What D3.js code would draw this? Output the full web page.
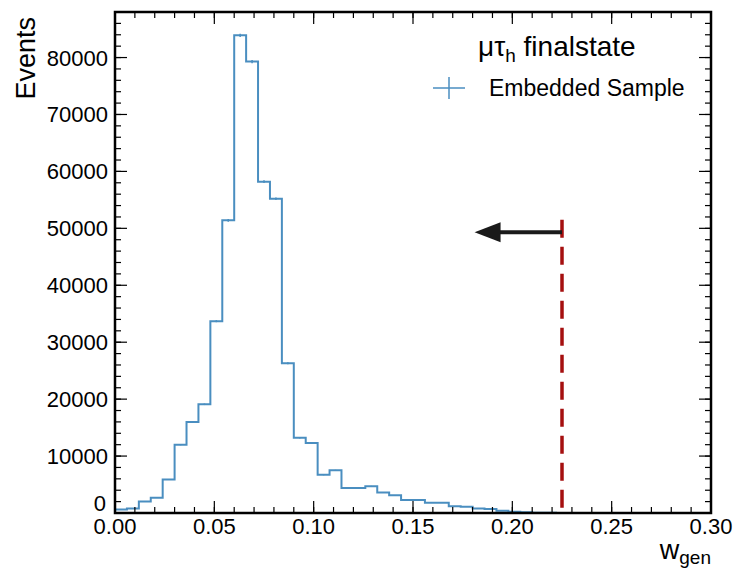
<!DOCTYPE html>
<html>
<head>
<meta charset="utf-8">
<script src="https://cdn.jsdelivr.net/npm/d3@7"></script>
<style>
  body { margin: 0; background: #fff; }
  text { font-family: "Liberation Sans", Arial, sans-serif; fill: #000; }
</style>
</head>
<body>
<div id="chart"></div>
<script>
// histogram of w_gen, 50 bins of width 0.006 from 0 to 0.30
var binWidth = 0.006
var counts = [600, 800, 2000, 2700, 5900, 12000, 16000, 19100, 33700, 51400,
              83900, 79300, 58200, 55200, 26300, 13200, 12300, 6700, 7500, 4400,
              4400, 4700, 3600, 3100, 2300, 2300, 1800, 1800, 1200, 1100,
              800, 700, 400, 200, 150, 60, 40, 20, 10, 5,
              0, 0, 0, 0, 0, 0, 0, 0, 0, 0]
var xTicks = [0, 0.05, 0.10, 0.15, 0.20, 0.25, 0.30]
var yTicks = [0, 10000, 20000, 30000, 40000, 50000, 60000, 70000, 80000]
var cutValue = 0.225
var arrowTip = [0.181, 49300]
var titleMain = "μτ"
var titleSub = "h"
var titleRest = " finalstate"
var legendLabel = "Embedded Sample"

var width = 734, height = 570
var margin = {left: 115, right: 23, top: 12, bottom: 57}
var blue = "#4a8ec0"

var svg = d3.select("#chart").append("svg")
	.attr("width", width)
	.attr("height", height)

var x = d3.scaleLinear().domain([0, 0.30]).range([margin.left, width - margin.right])
var y = d3.scaleLinear().domain([0, 88000]).range([height - margin.bottom, margin.top])

var x0 = x.range()[0], x1 = x.range()[1]
var y0 = y.range()[0], y1 = y.range()[1]

// histogram step line
var pts = []
counts.forEach(function(c, i) {
	pts.push([i * binWidth, c])
	pts.push([(i + 1) * binWidth, c])
})
var line = d3.line().x(d => x(d[0])).y(d => y(d[1]))
svg.append("path")
	.attr("d", line(pts))
	.attr("fill", "none")
	.attr("stroke", blue)
	.attr("stroke-width", 2)

// small stat error bars at bin centres
var errs = []
counts.forEach(function(c, i) { if (c > 0) errs.push({c: c, i: i}) })
svg.selectAll(".err")
	.data(errs)
	.enter().append("line")
	.attr("x1", d => x((d.i + 0.5) * binWidth))
	.attr("x2", d => x((d.i + 0.5) * binWidth))
	.attr("y1", d => y(d.c - Math.sqrt(d.c)))
	.attr("y2", d => y(d.c + Math.sqrt(d.c)))
	.attr("stroke", blue)
	.attr("stroke-width", 1.5)

// cut line
svg.append("line")
	.attr("x1", x(cutValue)).attr("x2", x(cutValue))
	.attr("y1", y(51500)).attr("y2", y0)
	.attr("stroke", "#a50f0f")
	.attr("stroke-width", 3.5)
	.attr("stroke-dasharray", "18,9")

// arrow
svg.append("line")
	.attr("x1", x(cutValue)).attr("x2", x(arrowTip[0]) + 24)
	.attr("y1", y(arrowTip[1])).attr("y2", y(arrowTip[1]))
	.attr("stroke", "#1a1a1a")
	.attr("stroke-width", 4)
var tx = x(arrowTip[0]), ty = y(arrowTip[1])
svg.append("path")
	.attr("d", "M" + tx + "," + ty + "L" + (tx + 26) + "," + (ty - 10) + "L" + (tx + 26) + "," + (ty + 10) + "Z")
	.attr("fill", "#1a1a1a")

// ticks on all four sides
var xMinor = d3.range(0, 31).map(d => d / 100)
var yMinor = d3.range(0, 45).map(d => d * 2000)
function tickSet(vals, len) {
	vals.forEach(function(v) {
		svg.append("line").attr("x1", x(v)).attr("x2", x(v)).attr("y1", y0).attr("y2", y0 - len).attr("stroke", "#000").attr("stroke-width", 1.2)
		svg.append("line").attr("x1", x(v)).attr("x2", x(v)).attr("y1", y1).attr("y2", y1 + len).attr("stroke", "#000").attr("stroke-width", 1.2)
	})
}
tickSet(xMinor, 6)
tickSet(xTicks, 12)
function tickSetY(vals, len) {
	vals.forEach(function(v) {
		if (y(v) < y1) return
		svg.append("line").attr("y1", y(v)).attr("y2", y(v)).attr("x1", x0).attr("x2", x0 + len).attr("stroke", "#000").attr("stroke-width", 1.2)
		svg.append("line").attr("y1", y(v)).attr("y2", y(v)).attr("x1", x1).attr("x2", x1 - len).attr("stroke", "#000").attr("stroke-width", 1.2)
	})
}
tickSetY(yMinor, 6)
tickSetY(yTicks, 12)

// frame
svg.append("rect")
	.attr("x", x0).attr("y", y1)
	.attr("width", x1 - x0).attr("height", y0 - y1)
	.attr("fill", "none")
	.attr("stroke", "#000")
	.attr("stroke-width", 2.5)

// tick labels
svg.selectAll(".xl").data(xTicks).enter().append("text")
	.attr("x", d => x(d)).attr("y", y0 + 21)
	.attr("text-anchor", "middle")
	.style("font-size", "22px")
	.text(d => d3.format(".2f")(d))
svg.selectAll(".yl").data(yTicks).enter().append("text")
	.attr("x", d => d == 0 ? x0 - 9 : x0 - 7)
	.attr("y", d => d == 0 ? y(d) - 2 : y(d) + 8)
	.attr("text-anchor", "end")
	.style("font-size", "22px")
	.text(d => d)

// axis titles
svg.append("text")
	.attr("transform", "translate(35," + 17 + ") rotate(-90)")
	.attr("text-anchor", "end")
	.style("font-size", "27px")
	.text("Events")
var xt = svg.append("text")
	.attr("x", x1).attr("y", 559)
	.attr("text-anchor", "end")
	.style("font-size", "27px")
xt.append("tspan").text("w")
xt.append("tspan").attr("dy", 5).style("font-size", "19px").text("gen")

// legend
var tt = svg.append("text")
	.attr("x", 478).attr("y", 56)
	.style("font-size", "28px")
tt.append("tspan").text(titleMain)
tt.append("tspan").attr("dy", 6).style("font-size", "19px").text(titleSub)
tt.append("tspan").attr("dy", -6).text(titleRest)

svg.append("line").attr("x1", 433).attr("x2", 465).attr("y1", 88).attr("y2", 88).attr("stroke", blue).attr("stroke-width", 1.5)
svg.append("line").attr("x1", 449).attr("x2", 449).attr("y1", 77).attr("y2", 99).attr("stroke", blue).attr("stroke-width", 1.5)
svg.append("text")
	.attr("x", 489).attr("y", 96)
	.style("font-size", "23px")
	.text(legendLabel)
</script>
</body>
</html>
